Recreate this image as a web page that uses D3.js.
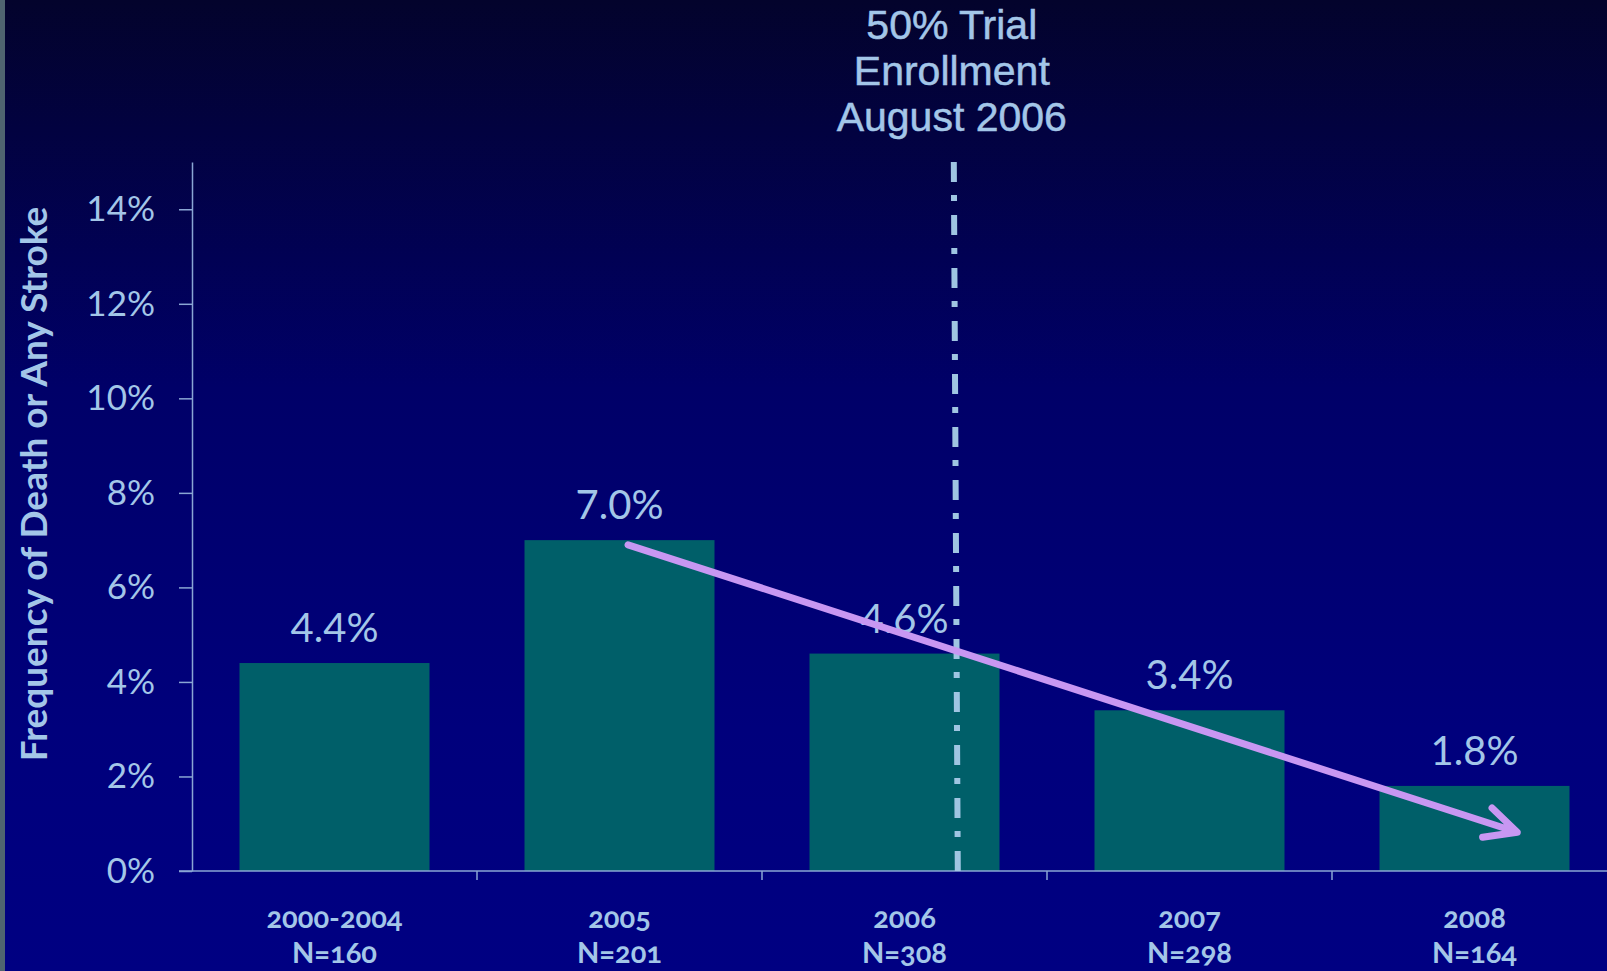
<!DOCTYPE html>
<html>
<head>
<meta charset="utf-8">
<script src="https://cdn.jsdelivr.net/npm/d3@7"></script>
<style>
  body { margin: 0; overflow: hidden; background: #000080; }
  svg { display: block; }
</style>
</head>
<body>
<svg id="chart" width="1607" height="971"></svg>
<script>
// chart values
const categories = ["2000-2004", "2005", "2006", "2007", "2008"];
const sampleSizes = ["N=160", "N=201", "N=308", "N=298", "N=164"];
const rates = [4.4, 7.0, 4.6, 3.4, 1.8];
const yTicks = [0, 2, 4, 6, 8, 10, 12, 14];
const titleLines = ["50% Trial", "Enrollment", "August 2006"];
const yTitle = "Frequency of Death or Any Stroke";
// enrollment marker: inside the 2006 step, about August
const enrollment = { category: "2006", fraction: 0.68 };
// trend arrow, from the 2005 bar down to the 2008 bar
const trendFrom = { category: "2005", fraction: 0.53, value: 6.9 };
const trendTo = { category: "2008", fraction: 0.65, value: 0.82 };

(function () {
  const W = 1607, H = 971;
  const textColor = "#a3c6e8";
  const axisColor = "#8aa6d4";

  const svg = d3.select("#chart");

  // background gradient
  const defs = svg.append("defs");
  const grad = defs.append("linearGradient")
    .attr("id", "bg").attr("x1", 0).attr("y1", 0).attr("x2", 0).attr("y2", 1);
  grad.append("stop").attr("offset", "0%").attr("stop-color", "#03032c");
  grad.append("stop").attr("offset", "40%").attr("stop-color", "#000068");
  grad.append("stop").attr("offset", "75%").attr("stop-color", "#00007c");
  grad.append("stop").attr("offset", "100%").attr("stop-color", "#000082");

  svg.append("rect").attr("width", W).attr("height", H).attr("fill", "url(#bg)");
  svg.append("rect").attr("width", 5).attr("height", H).attr("fill", "#4f6470");

  var y = d3.scaleLinear().domain([0, 15]).range([871, 162]);
  var x = d3.scaleBand()
    .domain(categories)
    .range([192, 1617])
    .paddingInner(1 / 3)
    .paddingOuter(1 / 6);

  // left edge of a category's step
  function stepStart(cat) {
    return x(cat) - (x.step() * x.paddingInner()) / 2;
  }
  function atFraction(cat, f) {
    return stepStart(cat) + x.step() * f;
  }

  // bars
  svg.append("g")
    .selectAll("rect")
    .data(rates)
    .join("rect")
    .attr("x", (d, i) => x(categories[i]))
    .attr("y", (d) => y(d))
    .attr("width", x.bandwidth())
    .attr("height", (d) => y(0) - y(d))
    .attr("fill", "#005f69");

  // value labels
  svg.append("g")
    .selectAll("text")
    .data(rates)
    .join("text")
    .attr("x", (d, i) => x(categories[i]) + x.bandwidth() / 2)
    .attr("y", (d) => y(d) - 21)
    .attr("text-anchor", "middle")
    .style("font-family", "Lato, sans-serif")
    .style("font-size", "40px")
    .style("fill", textColor)
    .text((d) => d.toFixed(1) + "%");

  // y axis
  const yAxis = svg.append("g")
    .attr("transform", "translate(192,0)")
    .call(d3.axisLeft(y).tickValues(yTicks).tickFormat((d) => d + "%")
      .tickSize(13).tickSizeOuter(0).tickPadding(24));
  yAxis.select(".domain").attr("stroke", axisColor).attr("stroke-width", 1.5);
  yAxis.selectAll(".tick line").attr("stroke", axisColor).attr("stroke-width", 1.5);
  yAxis.selectAll(".tick text")
    .style("font-family", "Lato, sans-serif")
    .style("font-size", "35px")
    .style("fill", textColor);

  // x axis line with ticks between the bars
  svg.append("line")
    .attr("x1", 179).attr("x2", W)
    .attr("y1", y(0)).attr("y2", y(0))
    .attr("stroke", axisColor).attr("stroke-width", 1.5);
  svg.append("g")
    .selectAll("line")
    .data(categories.slice(1))
    .join("line")
    .attr("x1", (d) => stepStart(d)).attr("x2", (d) => stepStart(d))
    .attr("y1", y(0)).attr("y2", y(0) + 9)
    .attr("stroke", axisColor).attr("stroke-width", 1.5);

  // x labels
  const xl = svg.append("g")
    .selectAll("text")
    .data(categories)
    .join("text")
    .attr("text-anchor", "middle")
    .style("font-family", "Lato, sans-serif")
    .style("font-weight", "bold")
    .style("font-size", "29px")
    .style("font-variant-numeric", "oldstyle-nums")
    .style("fill", textColor);
  xl.append("tspan")
    .attr("x", (d) => x(d) + x.bandwidth() / 2)
    .attr("y", 928)
    .text((d) => d);
  xl.append("tspan")
    .attr("x", (d) => x(d) + x.bandwidth() / 2)
    .attr("y", 963)
    .text((d, i) => sampleSizes[i]);

  // y title
  svg.append("text")
    .attr("transform", "translate(47,484) rotate(-90)")
    .attr("text-anchor", "middle")
    .style("font-family", "Lato, sans-serif")
    .style("font-weight", "bold")
    .style("font-size", "37px")
    .style("fill", textColor)
    .text(yTitle);

  // enrollment line, dash-dot, drawn bottom-up
  const ex = atFraction(enrollment.category, enrollment.fraction);
  svg.append("line")
    .attr("x1", ex + 2).attr("x2", ex - 2)
    .attr("y1", y(0)).attr("y2", y(15))
    .attr("stroke", "#9fc5e2")
    .attr("stroke-width", 6)
    .attr("stroke-dasharray", "20,14,6,13");

  // title above the line
  svg.append("g")
    .selectAll("text")
    .data(titleLines)
    .join("text")
    .attr("x", ex - 4)
    .attr("y", (d, i) => 39 + i * 46)
    .attr("text-anchor", "middle")
    .style("font-family", "'Liberation Sans', Arial, sans-serif")
    .style("font-size", "41px")
    .style("fill", textColor)
    .style("stroke", textColor)
    .style("stroke-width", 0.5)
    .text((d) => d);

  // trend arrow
  const x0 = atFraction(trendFrom.category, trendFrom.fraction), y0 = y(trendFrom.value);
  const x1 = atFraction(trendTo.category, trendTo.fraction), y1 = y(trendTo.value);
  const ang = Math.atan2(y1 - y0, x1 - x0);
  const headLen = 35, headAng = (26 * Math.PI) / 180;
  const arrowPath = d3.path();
  arrowPath.moveTo(x0, y0);
  arrowPath.lineTo(x1, y1);
  arrowPath.moveTo(x1 - headLen * Math.cos(ang - headAng), y1 - headLen * Math.sin(ang - headAng));
  arrowPath.lineTo(x1, y1);
  arrowPath.lineTo(x1 - headLen * Math.cos(ang + headAng), y1 - headLen * Math.sin(ang + headAng));
  svg.append("path")
    .attr("d", arrowPath.toString())
    .attr("fill", "none")
    .attr("stroke", "#c897f2")
    .attr("stroke-width", 7)
    .attr("stroke-linecap", "round")
    .attr("stroke-linejoin", "round");
})();
</script>
</body>
</html>
